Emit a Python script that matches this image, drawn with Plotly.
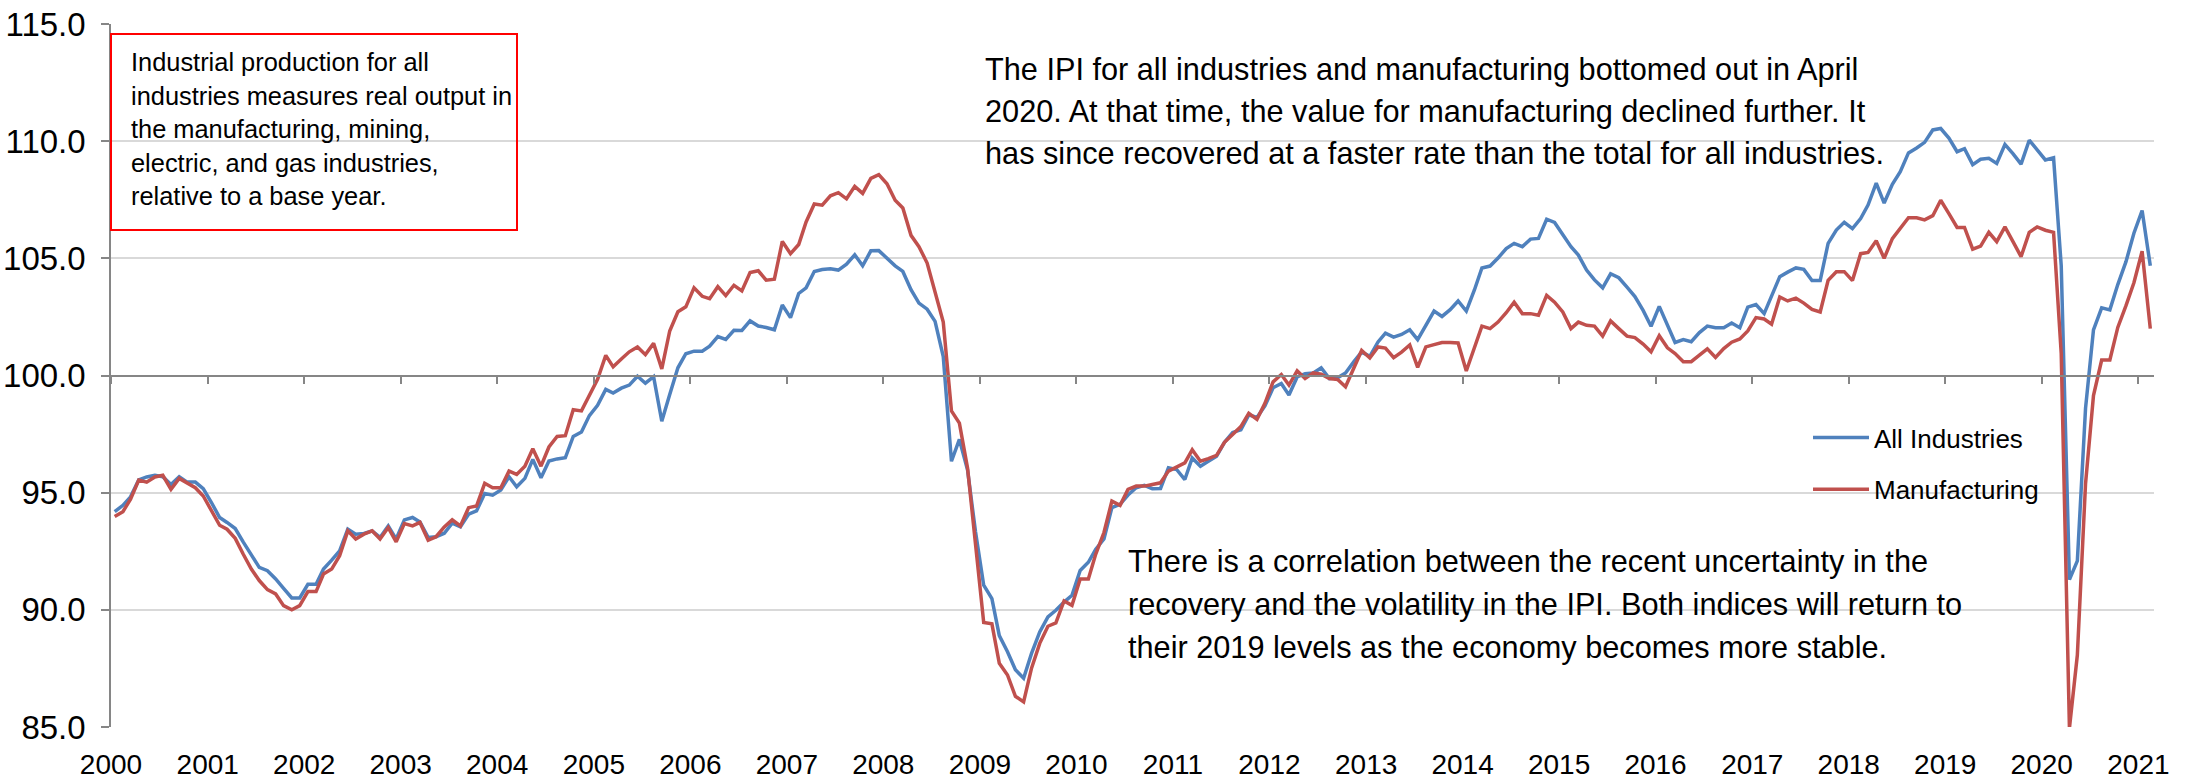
import glob
import pandas as pd
import plotly.graph_objects as go

# ---- data (monthly, Jan 2000 - Feb 2021) ----
all_industries = [
    94.19, 94.46, 94.82, 95.54, 95.67, 95.74, 95.68, 95.35, 95.68, 95.45, 95.45, 95.17,   # 2000
    94.58, 93.94, 93.73, 93.47, 92.90, 92.31, 91.81, 91.67, 91.32, 90.92, 90.51, 90.51,   # 2001
    91.09, 91.09, 91.74, 92.12, 92.52, 93.44, 93.23, 93.26, 93.37, 93.09, 93.58, 93.02,   # 2002
    93.84, 93.94, 93.75, 93.09, 93.12, 93.27, 93.70, 93.54, 94.08, 94.22, 94.96, 94.89,   # 2003
    95.11, 95.68, 95.25, 95.61, 96.42, 95.64, 96.35, 96.44, 96.49, 97.40, 97.59, 98.29,   # 2004
    98.73, 99.41, 99.25, 99.46, 99.59, 99.97, 99.67, 99.95, 98.05, 99.19, 100.33, 100.93,  # 2005
    101.04, 101.04, 101.25, 101.66, 101.54, 101.93, 101.92, 102.33, 102.11, 102.05, 101.95, 103.01,  # 2006
    102.47, 103.50, 103.74, 104.44, 104.52, 104.55, 104.50, 104.75, 105.15, 104.68, 105.32, 105.33,  # 2007
    105.01, 104.68, 104.44, 103.66, 103.09, 102.83, 102.31, 100.81, 96.34, 97.27, 95.96, 93.33,  # 2008
    91.05, 90.48, 88.90, 88.21, 87.44, 87.08, 88.14, 89.06, 89.70, 89.98, 90.33, 90.62,   # 2009
    91.68, 92.03, 92.59, 93.02, 94.36, 94.50, 94.90, 95.21, 95.31, 95.17, 95.18, 96.06,   # 2010
    95.99, 95.56, 96.48, 96.13, 96.34, 96.55, 97.15, 97.57, 97.68, 98.32, 98.21, 98.70,   # 2011
    99.48, 99.66, 99.17, 99.94, 100.08, 100.11, 100.33, 99.87, 99.90, 100.11, 100.58, 101.00,  # 2012
    100.82, 101.43, 101.81, 101.64, 101.75, 101.95, 101.53, 102.14, 102.75, 102.52, 102.81, 103.18,  # 2013
    102.75, 103.66, 104.59, 104.67, 105.01, 105.42, 105.64, 105.50, 105.82, 105.85, 106.67, 106.53,  # 2014
    106.03, 105.50, 105.14, 104.50, 104.08, 103.74, 104.34, 104.17, 103.77, 103.37, 102.78, 102.10,  # 2015
    102.95, 102.17, 101.41, 101.53, 101.44, 101.83, 102.11, 102.04, 102.04, 102.24, 102.04, 102.92,  # 2016
    103.03, 102.64, 103.35, 104.22, 104.41, 104.59, 104.53, 104.05, 104.05, 105.64, 106.21, 106.54,  # 2017
    106.27, 106.70, 107.27, 108.21, 107.36, 108.16, 108.70, 109.50, 109.71, 109.95, 110.48, 110.54,  # 2018
    110.13, 109.55, 109.68, 109.00, 109.23, 109.27, 109.05, 109.86, 109.46, 109.02, 110.04, 109.64,  # 2019
    109.20, 109.29, 104.68, 91.29, 92.09, 98.61, 101.95, 102.89, 102.80, 103.88, 104.86, 106.07,  # 2020
    107.04, 104.68,                                                                            # 2021
]

manufacturing = [
    93.98, 94.19, 94.72, 95.54, 95.45, 95.67, 95.74, 95.14, 95.61, 95.42, 95.21, 94.86,   # 2000
    94.22, 93.61, 93.44, 93.05, 92.38, 91.74, 91.25, 90.86, 90.68, 90.18, 90.00, 90.18,   # 2001
    90.78, 90.78, 91.53, 91.74, 92.31, 93.37, 93.02, 93.23, 93.37, 93.02, 93.51, 92.90,   # 2002
    93.68, 93.58, 93.73, 92.97, 93.12, 93.54, 93.84, 93.58, 94.36, 94.43, 95.40, 95.21,   # 2003
    95.21, 95.92, 95.78, 96.13, 96.87, 96.13, 96.95, 97.40, 97.43, 98.54, 98.49, 99.14,   # 2004
    99.84, 100.86, 100.37, 100.70, 101.01, 101.22, 100.89, 101.37, 100.28, 101.90, 102.72, 102.93,  # 2005
    103.74, 103.38, 103.28, 103.79, 103.41, 103.85, 103.61, 104.39, 104.47, 104.07, 104.11, 105.72,  # 2006
    105.20, 105.59, 106.55, 107.32, 107.27, 107.67, 107.80, 107.54, 108.07, 107.77, 108.41, 108.57,  # 2007
    108.18, 107.48, 107.15, 105.98, 105.50, 104.80, 103.58, 102.28, 98.49, 97.97, 96.04, 92.85,  # 2008
    89.46, 89.40, 87.72, 87.22, 86.31, 86.07, 87.51, 88.57, 89.30, 89.44, 90.38, 90.19,   # 2009
    91.32, 91.32, 92.38, 93.30, 94.64, 94.46, 95.14, 95.28, 95.28, 95.35, 95.42, 95.92,   # 2010
    96.10, 96.27, 96.83, 96.34, 96.45, 96.59, 97.15, 97.50, 97.82, 98.39, 98.13, 98.81,   # 2011
    99.73, 100.04, 99.59, 100.20, 99.87, 100.11, 100.06, 99.87, 99.83, 99.52, 100.30, 101.07,  # 2012
    100.75, 101.22, 101.17, 100.76, 101.00, 101.30, 100.35, 101.22, 101.32, 101.41, 101.41, 101.39,  # 2013
    100.19, 101.22, 102.11, 102.00, 102.28, 102.68, 103.13, 102.64, 102.64, 102.57, 103.42, 103.13,  # 2014
    102.71, 102.00, 102.28, 102.14, 102.11, 101.68, 102.33, 102.00, 101.68, 101.62, 101.34, 101.01,  # 2015
    101.70, 101.18, 100.94, 100.59, 100.59, 100.87, 101.14, 100.77, 101.15, 101.42, 101.56, 101.90,  # 2016
    102.47, 102.41, 102.19, 103.35, 103.18, 103.30, 103.09, 102.82, 102.71, 104.06, 104.43, 104.43,  # 2017
    104.05, 105.20, 105.25, 105.75, 105.00, 105.84, 106.29, 106.73, 106.73, 106.64, 106.82, 107.48,  # 2018
    106.91, 106.32, 106.32, 105.39, 105.52, 106.11, 105.71, 106.34, 105.70, 105.07, 106.11, 106.34,  # 2019
    106.20, 106.11, 100.93, 84.95, 88.07, 95.39, 99.14, 100.66, 100.66, 102.05, 102.98, 103.96,  # 2020
    105.30, 102.00,                                                                            # 2021
]

year_labels = [str(y) for y in range(2000, 2022)]
y_ticks = [85, 90, 95, 100, 105, 110, 115]

series_names = ["All Industries", "Manufacturing"]
series_colors = ["#4F81BD", "#C0504D"]

box_text = [
    "Industrial production for all",
    "industries measures real output in",
    "the manufacturing, mining,",
    "electric, and gas industries,",
    "relative to a base year.",
]
top_text = [
    "The IPI for all industries and manufacturing bottomed out in April",
    "2020. At that time, the value for manufacturing declined further. It",
    "has since recovered at a faster rate than the total for all industries.",
]
bottom_text = [
    "There is a correlation between the recent uncertainty in the",
    "recovery and the volatility in the IPI. Both indices will return to",
    "their 2019 levels as the economy becomes more stable.",
]

# ---- figure geometry ----
W, H = 2195, 782
ML, MR, MT, MB = 111, 41, 24, 55
PW, PH = W - ML - MR, H - MT - MB

def px(x):
    return (x - ML) / PW

def py(y):
    return (H - MB - y) / PH

FONT = "Liberation Sans, Arial, sans-serif"
has_narrow = bool(glob.glob("/usr/share/fonts/**/LiberationSansNarrow*", recursive=True)) or \
    bool(glob.glob("/usr/local/share/fonts/**/LiberationSansNarrow*", recursive=True))
if has_narrow:
    TXT_FONT = "Liberation Sans Narrow, Arial Narrow, sans-serif"
    note_size, box_size, leg_size = 36, 30.5, 31
else:
    TXT_FONT = FONT
    note_size, box_size, leg_size = 30.7, 25.4, 26

months = pd.date_range("2000-01-01", periods=len(all_industries), freq="MS") + pd.Timedelta(days=14)
tick_dates = [f"{y}-01-01" for y in year_labels]
x_range = ["2000-01-01", "2021-03-01"]

fig = go.Figure()
for name, vals, col in zip(series_names, [all_industries, manufacturing], series_colors):
    fig.add_trace(go.Scatter(
        x=months, y=vals, mode="lines", name=name, legendgroup=name,
        line=dict(color=col, width=3.5),
    ))

fig.update_layout(
    width=W, height=H,
    margin=dict(l=ML, r=MR, t=MT, b=MB, autoexpand=False),
    paper_bgcolor="white", plot_bgcolor="white",
    font=dict(family=FONT, color="black"),
    showlegend=True,
    legend=dict(
        x=px(1808), y=py(414), xanchor="left", yanchor="top",
        font=dict(size=leg_size, family=TXT_FONT, color="black"),
        bgcolor="rgba(0,0,0,0)", tracegroupgap=15, itemwidth=56,
    ),
    xaxis=dict(
        type="date", range=x_range, automargin=False,
        tickvals=tick_dates, ticktext=year_labels,
        showgrid=False, showline=False, zeroline=False, ticks="",
        tickfont=dict(size=28, family=FONT, color="black"),
        ticklabelstandoff=18,
    ),
    xaxis2=dict(
        type="date", range=x_range, overlaying="x", anchor="free", position=0.5,
        side="bottom", automargin=False,
        tickvals=tick_dates, showticklabels=False,
        showgrid=False, zeroline=False,
        showline=True, linecolor="#868686", linewidth=1.5,
        ticks="outside", ticklen=8, tickwidth=1.5, tickcolor="#868686",
    ),
    yaxis=dict(
        range=[85, 115], tickvals=y_ticks, tickformat=".1f", automargin=False,
        showgrid=True, gridcolor="#D9D9D9", gridwidth=1.5,
        showline=True, linecolor="#868686", linewidth=1.5,
        ticks="outside", ticklen=8, tickwidth=1.5, tickcolor="#868686",
        zeroline=False,
        tickfont=dict(size=33, family=FONT, color="black"),
        ticklabelstandoff=9,
    ),
)

# invisible helper trace that activates the overlaid axis drawn through 100
fig.add_trace(go.Scatter(x=[months[0]], y=[all_industries[0]], xaxis="x2", mode="markers",
                         marker=dict(opacity=0), showlegend=False, hoverinfo="skip"))

# red bordered note box
fig.add_shape(type="rect", xref="paper", yref="paper",
              x0=px(111), x1=px(517), y0=py(230), y1=py(34),
              line=dict(color="#FF0000", width=2), fillcolor="rgba(0,0,0,0)")

for i, line in enumerate(box_text):
    fig.add_annotation(x=px(129), y=py(62 + 33.5 * i), xref="paper", yref="paper",
                       text=line, showarrow=False, xanchor="left", yanchor="middle",
                       font=dict(size=box_size, family=TXT_FONT, color="black"))

for i, line in enumerate(top_text):
    fig.add_annotation(x=px(983), y=py(69 + 42 * i), xref="paper", yref="paper",
                       text=line, showarrow=False, xanchor="left", yanchor="middle",
                       font=dict(size=note_size, family=TXT_FONT, color="black"))

for i, line in enumerate(bottom_text):
    fig.add_annotation(x=px(1126), y=py(561 + 43 * i), xref="paper", yref="paper",
                       text=line, showarrow=False, xanchor="left", yanchor="middle",
                       font=dict(size=note_size, family=TXT_FONT, color="black"))

fig.write_html(
    "out.html",
    config={"displayModeBar": False},
    post_script="document.body.style.margin='0px';document.body.style.overflow='hidden';",
)
